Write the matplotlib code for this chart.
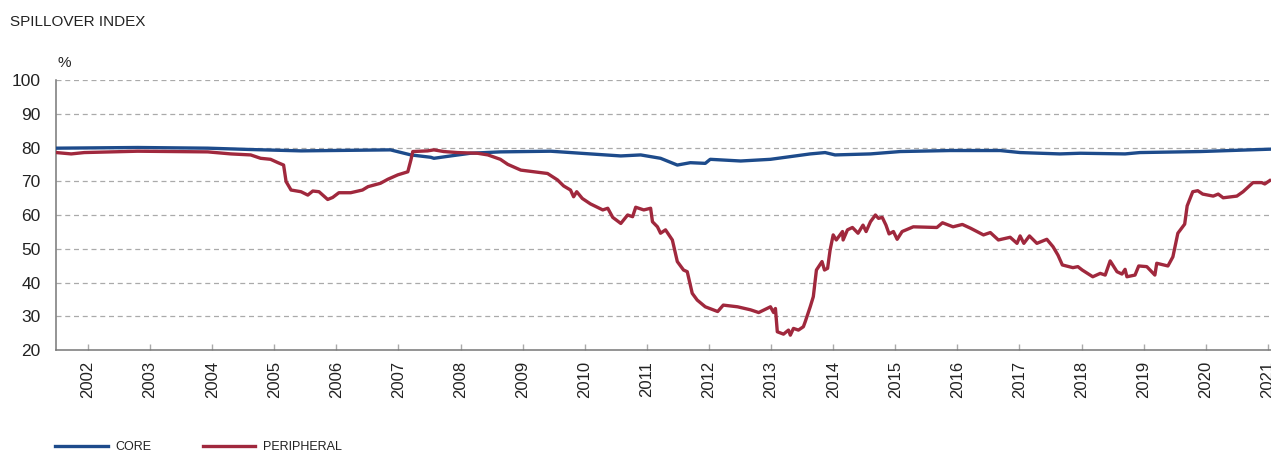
import matplotlib.pyplot as plt

# core spillover index (decimal year, %)
core_x = [2001.49, 2002.80, 2003.93, 2004.62, 2005.43, 2006.87, 2007.20, 2007.52,
          2007.57, 2007.84, 2008.16, 2008.64, 2009.45, 2010.09, 2010.58, 2010.90,
          2011.22, 2011.49, 2011.70, 2011.94, 2012.02, 2012.51, 2012.99, 2013.31,
          2013.63, 2013.87, 2014.03, 2014.60, 2015.08, 2015.88, 2016.69, 2017.01,
          2017.65, 2017.98, 2018.70, 2018.94, 2019.91, 2020.71, 2021.03]
core_y = [79.8, 80.0, 79.8, 79.4, 79.0, 79.3, 77.8, 77.1,
          76.8, 77.5, 78.3, 78.7, 78.9, 78.1, 77.5, 77.8,
          76.8, 74.8, 75.5, 75.3, 76.5, 76.0, 76.5, 77.3,
          78.1, 78.5, 77.8, 78.1, 78.8, 79.1, 79.1, 78.5,
          78.1, 78.3, 78.1, 78.5, 78.8, 79.3, 79.5]

# peripheral spillover index (decimal year, %)
peri_x = [2001.49, 2001.73, 2001.94, 2002.80, 2003.93, 2004.30, 2004.62, 2004.78,
          2004.94, 2005.06, 2005.15, 2005.19, 2005.27, 2005.43, 2005.54, 2005.62,
          2005.72, 2005.86, 2005.94, 2006.04, 2006.23, 2006.42, 2006.51, 2006.71,
          2006.83, 2006.99, 2007.15, 2007.20, 2007.23, 2007.47, 2007.57, 2007.73,
          2007.95, 2008.27, 2008.44, 2008.64, 2008.76, 2008.97, 2009.18, 2009.40,
          2009.56, 2009.66, 2009.77, 2009.82, 2009.87, 2009.96, 2010.09, 2010.29,
          2010.37, 2010.45, 2010.58, 2010.69, 2010.77, 2010.82, 2010.95, 2011.06,
          2011.09, 2011.17, 2011.22, 2011.30, 2011.41, 2011.49, 2011.59, 2011.65,
          2011.73, 2011.81, 2011.94, 2012.14, 2012.23, 2012.46, 2012.67, 2012.80,
          2012.99, 2013.04, 2013.07, 2013.10, 2013.20, 2013.28, 2013.31, 2013.36,
          2013.44, 2013.52, 2013.55, 2013.63, 2013.68, 2013.73, 2013.82, 2013.86,
          2013.91, 2013.95, 2014.00, 2014.05, 2014.15, 2014.16, 2014.23, 2014.31,
          2014.40, 2014.48, 2014.53, 2014.60, 2014.68, 2014.73, 2014.79, 2014.85,
          2014.90, 2014.97, 2015.03, 2015.11, 2015.29, 2015.67, 2015.76, 2015.93,
          2016.08, 2016.21, 2016.42, 2016.53, 2016.66, 2016.85, 2016.96, 2017.01,
          2017.07, 2017.16, 2017.28, 2017.44, 2017.54, 2017.62, 2017.69, 2017.86,
          2017.94, 2018.01, 2018.18, 2018.30, 2018.38, 2018.46, 2018.57, 2018.65,
          2018.70, 2018.73, 2018.86, 2018.92, 2019.05, 2019.18, 2019.21, 2019.39,
          2019.47, 2019.55, 2019.66, 2019.70, 2019.79, 2019.87, 2019.95, 2020.12,
          2020.20, 2020.28, 2020.50, 2020.60, 2020.76, 2020.90, 2020.95, 2021.03]
peri_y = [78.5, 78.1, 78.5, 78.9, 78.7, 78.1, 77.8, 76.8,
          76.5, 75.5, 74.8, 69.9, 67.4, 66.9, 65.9, 67.1,
          66.9, 64.6, 65.2, 66.6, 66.6, 67.4, 68.4, 69.4,
          70.6, 71.9, 72.8, 76.3, 78.8, 79.0, 79.3, 78.8,
          78.5, 78.3, 77.8, 76.5, 75.0, 73.3, 72.8, 72.3,
          70.4, 68.6, 67.4, 65.4, 66.9, 64.9, 63.3, 61.5,
          62.0, 59.3, 57.5, 60.0, 59.5, 62.3, 61.5, 62.0,
          58.0, 56.5, 54.6, 55.6, 52.6, 46.2, 43.7, 43.2,
          36.8, 34.8, 32.8, 31.4, 33.3, 32.8, 31.9, 31.1,
          32.8, 31.1, 32.3, 25.4, 24.7, 25.9, 24.4, 26.4,
          25.9, 26.9, 28.4, 32.8, 35.8, 43.7, 46.2, 43.7,
          44.2, 49.6, 54.1, 52.6, 55.1, 52.6, 55.6, 56.3,
          54.6, 57.0, 55.1, 58.0, 60.0, 59.0, 59.3, 57.0,
          54.4, 55.1, 52.8, 55.1, 56.5, 56.3, 57.7, 56.5,
          57.2, 56.1, 54.1, 54.8, 52.6, 53.4, 51.6, 53.8,
          51.6, 53.8, 51.6, 52.8, 50.6, 48.1, 45.2, 44.4,
          44.7, 43.7, 41.7, 42.7, 42.2, 46.4, 43.2, 42.5,
          43.9, 41.7, 42.2, 44.9, 44.7, 42.2, 45.7, 44.9,
          47.6, 54.6, 57.3, 62.7, 66.9, 67.2, 66.2, 65.6,
          66.2, 65.1, 65.6, 66.9, 69.6, 69.6, 69.2, 70.2]

years = list(range(2002, 2022))
yticks = [20, 30, 40, 50, 60, 70, 80, 90, 100]

plt.rcParams['font.family'] = ['Liberation Sans', 'DejaVu Sans']

fig = plt.figure(figsize=(12.71, 4.53), dpi=100)
ax = fig.add_axes([0.04406, 0.22737, 0.95594, 0.59603])

ax.plot(core_x, core_y, color="#1d4b8b", lw=2.4, label="CORE", zorder=3)
ax.plot(peri_x, peri_y, color="#a0283d", lw=2.4, label="PERIPHERAL", zorder=3)

ax.set_xlim(2001.485, 2021.05)
ax.set_ylim(20, 100)
ax.set_yticks(yticks)
ax.set_xticks(years)
ax.set_xticklabels([str(y) for y in years], rotation=90, fontsize=12, color="#222222")
ax.set_yticklabels([str(v) for v in yticks], fontsize=12.5, color="#222222")
ax.tick_params(axis="y", length=0, pad=11)
ax.tick_params(axis="x", direction="in", length=4.5, width=1, color="#aaaaaa", pad=8)

for v in yticks[1:]:
    ax.axhline(v, color="#aaaaaa", lw=0.9, ls=(0, (4, 3)), zorder=1)

for s in ["top", "right"]:
    ax.spines[s].set_visible(False)
for s in ["left", "bottom"]:
    ax.spines[s].set_color("#777777")
    ax.spines[s].set_linewidth(1.1)

fig.text(10 / 1271, 1 - 26 / 453, "SPILLOVER INDEX", fontsize=11, color="#222222", va="baseline")
fig.text(57 / 1271, 1 - 67 / 453, "%", fontsize=11, color="#222222", va="baseline")

fig.legend(loc="center left", bbox_to_anchor=(55 / 1271, 1 - 447 / 453), ncol=2,
           frameon=False, borderpad=0, borderaxespad=0,
           handlelength=4.2, handletextpad=0.65, columnspacing=4.1,
           fontsize=9, labelcolor="#222222")

fig.savefig("out.png", dpi=100)
